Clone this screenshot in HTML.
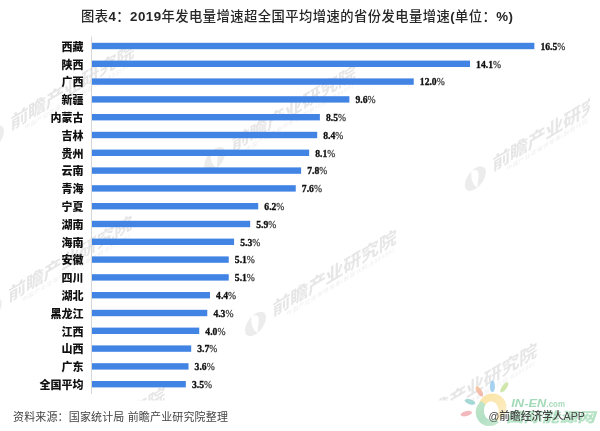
<!DOCTYPE html>
<html><head><meta charset="utf-8"><title>chart</title>
<style>
html,body{margin:0;padding:0;background:#fff;}
#wrap{position:relative;width:600px;height:431px;overflow:hidden;background:#fff;}
svg{position:absolute;left:0;top:0;will-change:transform;}
.cat{font-family:'Liberation Sans','Noto Sans CJK SC',sans-serif;font-weight:900;font-size:11px;fill:#111;text-anchor:end;}
.val{font-family:'Liberation Serif',serif;font-weight:bold;font-size:10.6px;fill:#111;stroke:#111;stroke-width:0.35px;}
.title{font-family:'Liberation Sans','Noto Sans CJK SC',sans-serif;font-weight:500;font-size:13.3px;letter-spacing:0.45px;fill:#262626;}
.tb{font-weight:bold;}
.pc{font-weight:normal;stroke-width:0.3px;fill:#444;stroke:#444;}
.src{font-family:'Liberation Sans','Noto Sans CJK SC',sans-serif;font-size:11px;letter-spacing:0.15px;fill:#444;}
.wm{font-family:'Liberation Sans','Noto Sans CJK SC',sans-serif;font-weight:bold;font-size:18px;letter-spacing:-0.3px;fill:#e6e6e6;}
.wms{font-family:'Liberation Sans','Noto Sans CJK SC',sans-serif;font-size:5.5px;letter-spacing:0.6px;fill:#eeeeee;}
</style></head>
<body><div id="wrap">
<svg width="600" height="431" viewBox="0 0 600 431">
<defs><clipPath id="wmclip"><rect x="0" y="0" width="590" height="400.5"/></clipPath></defs>
<g clip-path="url(#wmclip)">
<g transform="translate(10.4,130.5) skewY(-31)">
<circle cx="-17" cy="-3" r="10.5" fill="#ececec"/>
<path d="M-21 -13 C-15 -12 -13 -8 -14 -2 L-15 7 C-19 3 -22 -5 -21 -13Z" fill="#fff"/>
<text class="wm" x="0" y="0">前瞻产业研究院</text>
<text class="wms" x="14" y="8">中国产业咨询领导者(股票代码:833599)</text>
</g>
<g transform="translate(231.7,152) skewY(-31)">
<circle cx="-17" cy="-3" r="10.5" fill="#ececec"/>
<path d="M-21 -13 C-15 -12 -13 -8 -14 -2 L-15 7 C-19 3 -22 -5 -21 -13Z" fill="#fff"/>
<text class="wm" x="0" y="0">前瞻产业研究院</text>
<text class="wms" x="14" y="8">中国产业咨询领导者(股票代码:833599)</text>
</g>
<g transform="translate(492.4,171.4) skewY(-31)">
<circle cx="-17" cy="-3" r="10.5" fill="#ececec"/>
<path d="M-21 -13 C-15 -12 -13 -8 -14 -2 L-15 7 C-19 3 -22 -5 -21 -13Z" fill="#fff"/>
<text class="wm" x="0" y="0">前瞻产业研究院</text>
<text class="wms" x="14" y="8">中国产业咨询领导者(股票代码:833599)</text>
</g>
<g transform="translate(8.2,302.5) skewY(-31)">
<circle cx="-17" cy="-3" r="10.5" fill="#ececec"/>
<path d="M-21 -13 C-15 -12 -13 -8 -14 -2 L-15 7 C-19 3 -22 -5 -21 -13Z" fill="#fff"/>
<text class="wm" x="0" y="0">前瞻产业研究院</text>
<text class="wms" x="14" y="8">中国产业咨询领导者(股票代码:833599)</text>
</g>
<g transform="translate(272.5,316.7) skewY(-31)">
<circle cx="-17" cy="-3" r="10.5" fill="#ececec"/>
<path d="M-21 -13 C-15 -12 -13 -8 -14 -2 L-15 7 C-19 3 -22 -5 -21 -13Z" fill="#fff"/>
<text class="wm" x="0" y="0">前瞻产业研究院</text>
<text class="wms" x="14" y="8">中国产业咨询领导者(股票代码:833599)</text>
</g>
<g transform="translate(41,474) skewY(-31)">
<circle cx="-17" cy="-3" r="10.5" fill="#ececec"/>
<path d="M-21 -13 C-15 -12 -13 -8 -14 -2 L-15 7 C-19 3 -22 -5 -21 -13Z" fill="#fff"/>
<text class="wm" x="0" y="0">前瞻产业研究院</text>
<text class="wms" x="14" y="8">中国产业咨询领导者(股票代码:833599)</text>
</g>
<g transform="translate(413,430) skewY(-31)">
<circle cx="-17" cy="-3" r="10.5" fill="#ececec"/>
<path d="M-21 -13 C-15 -12 -13 -8 -14 -2 L-15 7 C-19 3 -22 -5 -21 -13Z" fill="#fff"/>
<text class="wm" x="0" y="0">前瞻产业研究院</text>
<text class="wms" x="14" y="8">中国产业咨询领导者(股票代码:833599)</text>
</g>
</g>
<text class="title" x="81" y="21">图表<tspan class="tb">4</tspan>：<tspan class="tb">2019</tspan>年发电量增速超全国平均增速的省份发电量增速<tspan class="tb">(</tspan>单位：<tspan class="tb">%)</tspan></text>
<rect x="91" y="36.5" width="1" height="357.5" fill="#d6d6d6"/>
<rect x="92.0" y="42.80" width="442.36" height="6.4" fill="#4184e4"/>
<text class="cat" x="83.5" y="50.70">西藏</text>
<text class="val" x="540.47" y="49.80" transform="translate(540.47,0) scale(0.91,1) translate(-540.47,0)">16.5<tspan class="pc">%</tspan></text>
<rect x="92.0" y="60.60" width="378.02" height="6.4" fill="#4184e4"/>
<text class="cat" x="83.5" y="68.50">陕西</text>
<text class="val" x="476.12" y="67.60" transform="translate(476.12,0) scale(0.91,1) translate(-476.12,0)">14.1<tspan class="pc">%</tspan></text>
<rect x="92.0" y="78.40" width="321.72" height="6.4" fill="#4184e4"/>
<text class="cat" x="83.5" y="86.30">广西</text>
<text class="val" x="419.82" y="85.40" transform="translate(419.82,0) scale(0.91,1) translate(-419.82,0)">12.0<tspan class="pc">%</tspan></text>
<rect x="92.0" y="96.20" width="257.38" height="6.4" fill="#4184e4"/>
<text class="cat" x="83.5" y="104.10">新疆</text>
<text class="val" x="355.48" y="103.20" transform="translate(355.48,0) scale(0.91,1) translate(-355.48,0)">9.6<tspan class="pc">%</tspan></text>
<rect x="92.0" y="114.00" width="227.88" height="6.4" fill="#4184e4"/>
<text class="cat" x="83.5" y="121.90">内蒙古</text>
<text class="val" x="325.99" y="121.00" transform="translate(325.99,0) scale(0.91,1) translate(-325.99,0)">8.5<tspan class="pc">%</tspan></text>
<rect x="92.0" y="131.80" width="225.20" height="6.4" fill="#4184e4"/>
<text class="cat" x="83.5" y="139.70">吉林</text>
<text class="val" x="323.30" y="138.80" transform="translate(323.30,0) scale(0.91,1) translate(-323.30,0)">8.4<tspan class="pc">%</tspan></text>
<rect x="92.0" y="149.60" width="217.16" height="6.4" fill="#4184e4"/>
<text class="cat" x="83.5" y="157.50">贵州</text>
<text class="val" x="315.26" y="156.60" transform="translate(315.26,0) scale(0.91,1) translate(-315.26,0)">8.1<tspan class="pc">%</tspan></text>
<rect x="92.0" y="167.40" width="209.12" height="6.4" fill="#4184e4"/>
<text class="cat" x="83.5" y="175.30">云南</text>
<text class="val" x="307.22" y="174.40" transform="translate(307.22,0) scale(0.91,1) translate(-307.22,0)">7.8<tspan class="pc">%</tspan></text>
<rect x="92.0" y="185.20" width="203.76" height="6.4" fill="#4184e4"/>
<text class="cat" x="83.5" y="193.10">青海</text>
<text class="val" x="301.86" y="192.20" transform="translate(301.86,0) scale(0.91,1) translate(-301.86,0)">7.6<tspan class="pc">%</tspan></text>
<rect x="92.0" y="203.00" width="166.22" height="6.4" fill="#4184e4"/>
<text class="cat" x="83.5" y="210.90">宁夏</text>
<text class="val" x="264.32" y="210.00" transform="translate(264.32,0) scale(0.91,1) translate(-264.32,0)">6.2<tspan class="pc">%</tspan></text>
<rect x="92.0" y="220.80" width="158.18" height="6.4" fill="#4184e4"/>
<text class="cat" x="83.5" y="228.70">湖南</text>
<text class="val" x="256.28" y="227.80" transform="translate(256.28,0) scale(0.91,1) translate(-256.28,0)">5.9<tspan class="pc">%</tspan></text>
<rect x="92.0" y="238.60" width="142.09" height="6.4" fill="#4184e4"/>
<text class="cat" x="83.5" y="246.50">海南</text>
<text class="val" x="240.19" y="245.60" transform="translate(240.19,0) scale(0.91,1) translate(-240.19,0)">5.3<tspan class="pc">%</tspan></text>
<rect x="92.0" y="256.40" width="136.73" height="6.4" fill="#4184e4"/>
<text class="cat" x="83.5" y="264.30">安徽</text>
<text class="val" x="234.83" y="263.40" transform="translate(234.83,0) scale(0.91,1) translate(-234.83,0)">5.1<tspan class="pc">%</tspan></text>
<rect x="92.0" y="274.20" width="136.73" height="6.4" fill="#4184e4"/>
<text class="cat" x="83.5" y="282.10">四川</text>
<text class="val" x="234.83" y="281.20" transform="translate(234.83,0) scale(0.91,1) translate(-234.83,0)">5.1<tspan class="pc">%</tspan></text>
<rect x="92.0" y="292.00" width="117.96" height="6.4" fill="#4184e4"/>
<text class="cat" x="83.5" y="299.90">湖北</text>
<text class="val" x="216.06" y="299.00" transform="translate(216.06,0) scale(0.91,1) translate(-216.06,0)">4.4<tspan class="pc">%</tspan></text>
<rect x="92.0" y="309.80" width="115.28" height="6.4" fill="#4184e4"/>
<text class="cat" x="83.5" y="317.70">黑龙江</text>
<text class="val" x="213.38" y="316.80" transform="translate(213.38,0) scale(0.91,1) translate(-213.38,0)">4.3<tspan class="pc">%</tspan></text>
<rect x="92.0" y="327.60" width="107.24" height="6.4" fill="#4184e4"/>
<text class="cat" x="83.5" y="335.50">江西</text>
<text class="val" x="205.34" y="334.60" transform="translate(205.34,0) scale(0.91,1) translate(-205.34,0)">4.0<tspan class="pc">%</tspan></text>
<rect x="92.0" y="345.40" width="99.20" height="6.4" fill="#4184e4"/>
<text class="cat" x="83.5" y="353.30">山西</text>
<text class="val" x="197.30" y="352.40" transform="translate(197.30,0) scale(0.91,1) translate(-197.30,0)">3.7<tspan class="pc">%</tspan></text>
<rect x="92.0" y="363.20" width="96.52" height="6.4" fill="#4184e4"/>
<text class="cat" x="83.5" y="371.10">广东</text>
<text class="val" x="194.62" y="370.20" transform="translate(194.62,0) scale(0.91,1) translate(-194.62,0)">3.6<tspan class="pc">%</tspan></text>
<rect x="92.0" y="381.00" width="93.83" height="6.4" fill="#4184e4"/>
<text class="cat" x="83.5" y="388.90">全国平均</text>
<text class="val" x="191.93" y="388.00" transform="translate(191.93,0) scale(0.91,1) translate(-191.93,0)">3.5<tspan class="pc">%</tspan></text>
<text class="src" x="13" y="421">资料来源：国家统计局 前瞻产业研究院整理</text>
<g id="inen">
<defs>
<linearGradient id="gy" x1="0" y1="0" x2="1" y2="1"><stop offset="0" stop-color="#fbe3a6"/><stop offset="0.6" stop-color="#fbe9b6"/><stop offset="1" stop-color="#fdf3d8"/></linearGradient>
<linearGradient id="gg" x1="0" y1="0" x2="1" y2="1"><stop offset="0" stop-color="#c2e6cb"/><stop offset="0.5" stop-color="#b3e0c4"/><stop offset="1" stop-color="#c9ead3"/></linearGradient>
<linearGradient id="go" x1="0" y1="0" x2="0" y2="1"><stop offset="0" stop-color="#f6c9a0"/><stop offset="1" stop-color="#f1b3b0"/></linearGradient>
</defs>
<ellipse cx="492.4" cy="386.3" rx="2.5" ry="6" fill="#a6d2ef"/>
<ellipse cx="479.3" cy="391.3" rx="2.5" ry="5.8" fill="url(#go)" transform="rotate(-32 479.3 391.3)"/>
<ellipse cx="504.3" cy="387.3" rx="2.4" ry="6" fill="#d0e6ab" transform="rotate(36 504.3 387.3)"/>
<ellipse cx="470" cy="401.8" rx="5.6" ry="2.5" fill="#a6d8d6" transform="rotate(18 470 401.8)"/>
<ellipse cx="466.3" cy="413.6" rx="5.8" ry="2.5" fill="#f1b8bd" transform="rotate(-14 466.3 413.6)"/>
<circle cx="492.5" cy="407.5" r="14" fill="url(#gy)"/>
<path d="M491.2 410.6 L481.58 401.00 A13.8 13.8 0 1 0 498.73 422.56 Z" fill="url(#gg)"/>
<ellipse cx="491.2" cy="410.6" rx="7.4" ry="9.4" fill="#fff"/>
<text x="511.3" y="407" textLength="35" lengthAdjust="spacingAndGlyphs" style="font-family:'Liberation Sans',sans-serif;font-weight:bold;font-style:italic;font-size:10px;fill:#a3dab8">IN-EN</text>
<text x="546.5" y="407" textLength="18.5" lengthAdjust="spacingAndGlyphs" style="font-family:'Liberation Sans',sans-serif;font-weight:bold;font-size:9px;fill:#a8dcbb">.com</text>
<text x="506" y="422" textLength="89" lengthAdjust="spacingAndGlyphs" style="font-family:'Liberation Sans','Noto Sans CJK SC',sans-serif;font-weight:900;font-style:italic;font-size:13.5px;fill:#b4e2c4">国际能源网</text>
<text x="488.5" y="419.5" textLength="96.5" lengthAdjust="spacingAndGlyphs" style="font-family:'Liberation Sans','Noto Sans CJK SC',sans-serif;font-weight:500;font-size:10.8px;fill:#454545">@前瞻经济学人APP</text>
</g>
</svg>
</div></body></html>
